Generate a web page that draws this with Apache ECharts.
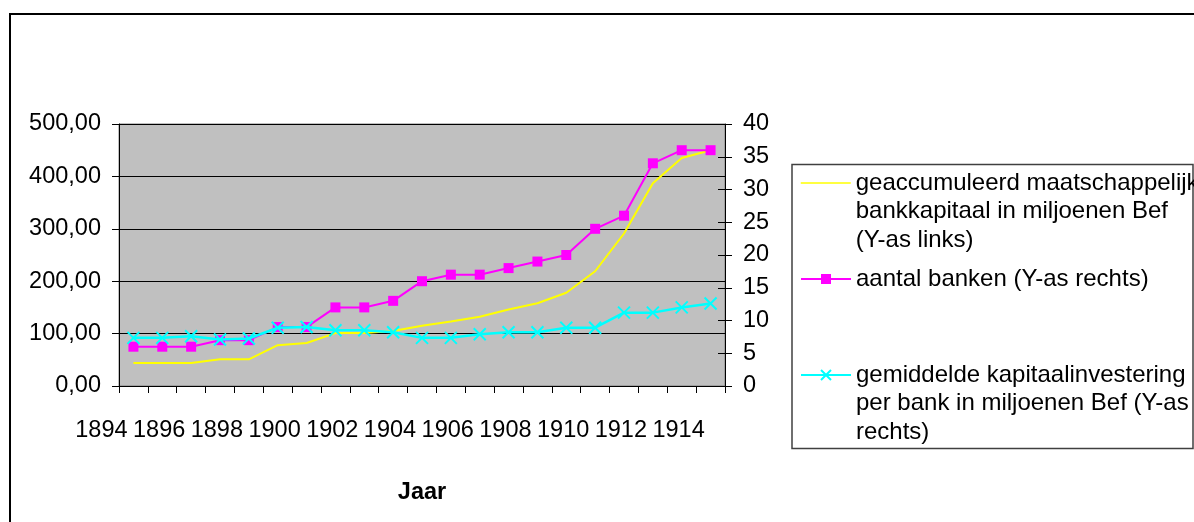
<!DOCTYPE html>
<html>
<head>
<meta charset="utf-8">
<script src="https://cdn.jsdelivr.net/npm/echarts@6/dist/echarts.min.js"></script>
<style>
  html, body { margin: 0; padding: 0; background: #ffffff; }
  #chart { width: 1194px; height: 522px; }
</style>
</head>
<body>
<div id="chart"></div>
<script>
// ---- data ----
const years = ['1894','1895','1896','1897','1898','1899','1900','1901','1902','1903','1904',
               '1905','1906','1907','1908','1909','1910','1911','1912','1913','1914'];
const kapitaal = [44, 44, 44, 51, 51, 78, 82, 101, 101, 105, 115,
                  123, 132, 146, 158, 178, 219, 291, 387, 435, 450];
const banken = [6, 6, 6, 7, 7, 9, 9, 12, 12, 13, 16,
                17, 17, 18, 19, 20, 24, 26, 34, 36, 36];
const gemiddeld = [7.35, 7.35, 7.6, 7.1, 7.25, 8.9, 9.0, 8.5, 8.5, 8.2, 7.35,
                   7.35, 7.9, 8.2, 8.2, 8.9, 8.9, 11.2, 11.2, 12.0, 12.6];
const leftTicks = ['0,00', '100,00', '200,00', '300,00', '400,00', '500,00'];
const rightTicks = ['0', '5', '10', '15', '20', '25', '30', '35', '40'];
const seriesNames = [
  'geaccumuleerd maatschappelijk bankkapitaal in miljoenen Bef (Y-as links)',
  'aantal banken (Y-as rechts)',
  'gemiddelde kapitaalinvestering per bank in miljoenen Bef (Y-as rechts)'
];
const legendLines = [
  ['geaccumuleerd maatschappelijk', 'bankkapitaal in miljoenen Bef', '(Y-as links)'],
  ['aantal banken (Y-as rechts)'],
  ['gemiddelde kapitaalinvestering', 'per bank in miljoenen Bef (Y-as', 'rechts)']
];
const xTitle = 'Jaar';

// ---- chart ----
const FONT = '"Liberation Sans", Arial, sans-serif';
const AX_FS = 23.5;
const LEG_FS = 24;
const LEG_LH = 28.5;

const chart = echarts.init(document.getElementById('chart'), null, { renderer: 'canvas' });

function legendFor(idx, firstLineY, hideSymbol) {
  const lines = legendLines[idx];
  const pad = lines.length - 1;
  const text = '\n'.repeat(pad) + lines.join('\n');
  const totalLines = lines.length + pad;
  const lg = {
    show: true,
    data: [seriesNames[idx]],
    left: 800,
    top: firstLineY - totalLines * LEG_LH / 2,
    padding: 0,
    itemWidth: 50,
    itemHeight: 12.5,
    itemGap: 0,
    selectedMode: false,
    formatter: () => text,
    textStyle: { fontFamily: FONT, fontSize: LEG_FS, lineHeight: LEG_LH, color: '#000' }
  };
  if (hideSymbol) {
    lg.itemStyle = { opacity: 0 };
    lg.lineStyle = { width: 1.5, color: '#FFFF00', opacity: 1 };
  }
  return lg;
}

const option = {
  animation: false,
  backgroundColor: '#ffffff',
  graphic: [
    { type: 'rect', left: 9, top: 13, z: -10, silent: true,
      shape: { x: 0, y: 0, width: 1200, height: 520 },
      style: { fill: '#ffffff', stroke: '#000000', lineWidth: 2 } },
    { type: 'rect', z: 1, silent: true,
      shape: { x: 792, y: 164.5, width: 401, height: 284 },
      style: { fill: '#ffffff', stroke: '#404040', lineWidth: 1.5 } }
  ],
  grid: {
    left: 119, right: 469, top: 124, bottom: 136,
    show: true, backgroundColor: '#C0C0C0', borderColor: '#808080', borderWidth: 1
  },
  legend: [legendFor(0, 183, true), legendFor(1, 279, false), legendFor(2, 375, false)],
  xAxis: {
    type: 'category',
    data: years,
    boundaryGap: true,
    name: xTitle,
    nameLocation: 'middle',
    nameGap: 95,
    nameTextStyle: { fontFamily: FONT, fontSize: AX_FS, fontWeight: 'bold', color: '#000' },
    axisLine: { lineStyle: { color: '#000', width: 1 } },
    axisTick: { show: true, interval: 0, length: 7, lineStyle: { color: '#000' } },
    axisLabel: {
      interval: 1, margin: 33, color: '#000',
      fontFamily: FONT, fontSize: AX_FS,
      padding: [0, 64, 0, 0]
    },
    splitLine: { show: false }
  },
  yAxis: [
    {
      type: 'value', position: 'left', min: 0, max: 500, interval: 100,
      axisLine: { show: true, lineStyle: { color: '#000' } },
      axisTick: { show: true, length: 7, lineStyle: { color: '#000' } },
      axisLabel: {
        margin: 18, color: '#000', fontFamily: FONT, fontSize: AX_FS,
        formatter: (v) => leftTicks[Math.round(v / 100)]
      },
      splitLine: { show: true, lineStyle: { color: '#000', width: 1 } }
    },
    {
      type: 'value', position: 'right', min: 0, max: 40, interval: 5,
      axisLine: { show: true, lineStyle: { color: '#000' } },
      axisTick: { show: true, length: 7, lineStyle: { color: '#000' } },
      axisLabel: {
        margin: 18, color: '#000', fontFamily: FONT, fontSize: AX_FS,
        formatter: (v) => rightTicks[Math.round(v / 5)]
      },
      splitLine: { show: false }
    },
    {
      type: 'value', position: 'right', min: 0, max: 40, interval: 5,
      axisLine: { show: false },
      axisTick: { show: true, inside: true, length: 7, lineStyle: { color: '#000' } },
      axisLabel: { show: false },
      splitLine: { show: false }
    }
  ],
  series: [
    {
      name: seriesNames[0], type: 'line', yAxisIndex: 0, data: kapitaal,
      symbol: 'none', lineStyle: { color: '#FFFF00', width: 2 },
      itemStyle: { color: '#FFFF00' }, z: 3
    },
    {
      name: seriesNames[1], type: 'line', yAxisIndex: 1, data: banken,
      symbol: 'rect', symbolSize: 10,
      lineStyle: { color: '#FF00FF', width: 2 },
      itemStyle: { color: '#FF00FF' }, z: 4
    },
    {
      name: seriesNames[2], type: 'line', yAxisIndex: 1, data: gemiddeld,
      symbol: 'path://M0,0L10,10M10,0L0,10', symbolSize: 12,
      lineStyle: { color: '#00FFFF', width: 2.5 },
      itemStyle: { color: '#00FFFF', borderColor: '#00FFFF', borderWidth: 2 }, z: 5
    }
  ]
};
chart.setOption(option);
</script>
</body>
</html>
